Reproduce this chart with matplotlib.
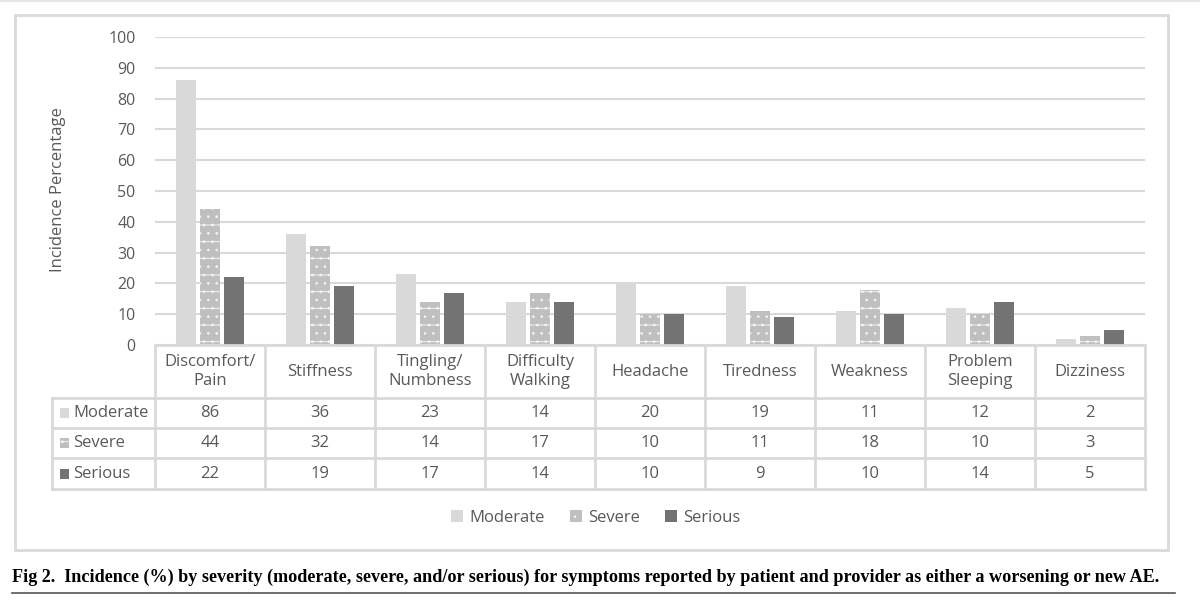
import matplotlib.pyplot as plt
import numpy as np
from matplotlib.patches import Rectangle

plt.rcParams['font.family'] = ['Open Sans', 'DejaVu Sans']
plt.rcParams['hatch.linewidth'] = 0.7

categories = ["Discomfort/\nPain", "Stiffness", "Tingling/\nNumbness", "Difficulty\nWalking",
              "Headache", "Tiredness", "Weakness", "Problem\nSleeping", "Dizziness"]
series = ["Moderate", "Severe", "Serious"]
moderate = [86, 36, 23, 14, 20, 19, 11, 12, 2]
severe = [44, 32, 14, 17, 10, 11, 18, 10, 3]
serious = [22, 19, 17, 14, 10, 9, 10, 14, 5]
values = [moderate, severe, serious]
colors = ["#d9d9d9", "#bfbfbf", "#737373"]
hatches = [None, "-..", None]
yticks = [0, 10, 20, 30, 40, 50, 60, 70, 80, 90, 100]

W, H = 1200, 601
fig = plt.figure(figsize=(12, 6.01), dpi=100)

# plot area in pixels
px_l, px_r, px_top, px_bot = 155, 1145, 37, 345
ax = fig.add_axes([px_l / W, (H - px_bot) / H, (px_r - px_l) / W, (px_bot - px_top) / H])

tc = "#595959"
grid_c = "#d9d9d9"

x = np.arange(len(categories))
bw = 0.18
offs = [-0.22, 0.0, 0.22]
bars = []
for i, s in enumerate(series):
    b = ax.bar(x + offs[i], values[i], bw, color=colors[i], label=s, zorder=3,
               hatch=hatches[i], edgecolor="#f2f2f2" if hatches[i] else colors[i], linewidth=0)
    bars.append(b)

ax.set_xlim(-0.5, len(categories) - 0.5)
ax.set_ylim(0, 100)
ax.set_yticks(yticks)
ax.tick_params(axis="y", length=0, pad=14, labelsize=11.5, labelcolor=tc)
ax.set_xticks([])
ax.grid(axis="y", color=grid_c, linewidth=1.5, zorder=0)
for sp in ax.spines.values():
    sp.set_visible(False)
ax.set_ylabel("Incidence Percentage", fontsize=12, color=tc)
ax.yaxis.set_label_coords((66 - px_l) / (px_r - px_l), (px_bot - 190) / (px_bot - px_top))


def ay(py):
    # pixel row -> axes fraction
    return (px_bot - py) / (px_bot - px_top)


def axx(pxx):
    return (pxx - px_l) / (px_r - px_l)


tr = ax.transAxes
row_y = [345, 398, 428, 458, 489]
lk = dict(color=grid_c, linewidth=2, transform=tr, clip_on=False, zorder=4)
# horizontal lines of table
ax.plot([axx(157), 1], [ay(345), ay(345)], **lk)
for ry in row_y[1:]:
    ax.plot([axx(52), 1], [ay(ry), ay(ry)], **lk)
# vertical lines
ax.plot([axx(52), axx(52)], [ay(398), ay(489)], **lk)
for k in range(len(categories) + 1):
    xx = k / len(categories)
    ax.plot([xx, xx], [ay(345), ay(489)], **lk)

# header labels
for k, c in enumerate(categories):
    ax.text((k + 0.5) / len(categories), ay(371.5), c, transform=tr, ha="center", va="center",
            fontsize=12, color=tc, linespacing=1.3)

# rows
for i, s in enumerate(series):
    yc = ay((row_y[i + 1] + row_y[i + 2]) / 2)
    ax.add_patch(Rectangle((axx(60), yc - 5 / 308), 9 / 990, 10 / 308, transform=tr,
                           facecolor=colors[i], hatch=hatches[i], edgecolor="#f2f2f2" if hatches[i] else colors[i],
                           linewidth=0, clip_on=False))
    ax.text(axx(73), yc, s, transform=tr, ha="left", va="center", fontsize=12, color=tc)
    for k, v in enumerate(values[i]):
        ax.text((k + 0.5) / len(categories), yc, str(v), transform=tr, ha="center", va="center",
                fontsize=12, color=tc)

# legend
fig.legend(handles=bars, labels=series, loc="center", bbox_to_anchor=(596 / W, (H - 518) / H),
           ncol=3, frameon=False, fontsize=12, labelcolor=tc, handlelength=0.7, handleheight=0.7,
           handletextpad=0.4, columnspacing=1.5)

# chart border
fig.patches.append(Rectangle((15 / W, (H - 550) / H), 1153 / W, 535 / H, transform=fig.transFigure,
                             fill=False, edgecolor=grid_c, linewidth=2))
# faint top line
fig.add_artist(plt.Line2D([0, 1], [(H - 1) / H, (H - 1) / H], color="#e6e6e6", linewidth=1.5))

# caption
fig.text(12 / W, (H - 577) / H,
         "Fig 2.  Incidence (%) by severity (moderate, severe, and/or serious) for symptoms reported by patient and provider as either a worsening or new AE.",
         ha="left", va="center", fontsize=13.1, fontweight="bold", family="Liberation Serif", color="black")
fig.add_artist(plt.Line2D([12 / W, 1175 / W], [(H - 593) / H, (H - 593) / H], color="#555555", linewidth=1.2))

fig.savefig("out.png", dpi=100)
